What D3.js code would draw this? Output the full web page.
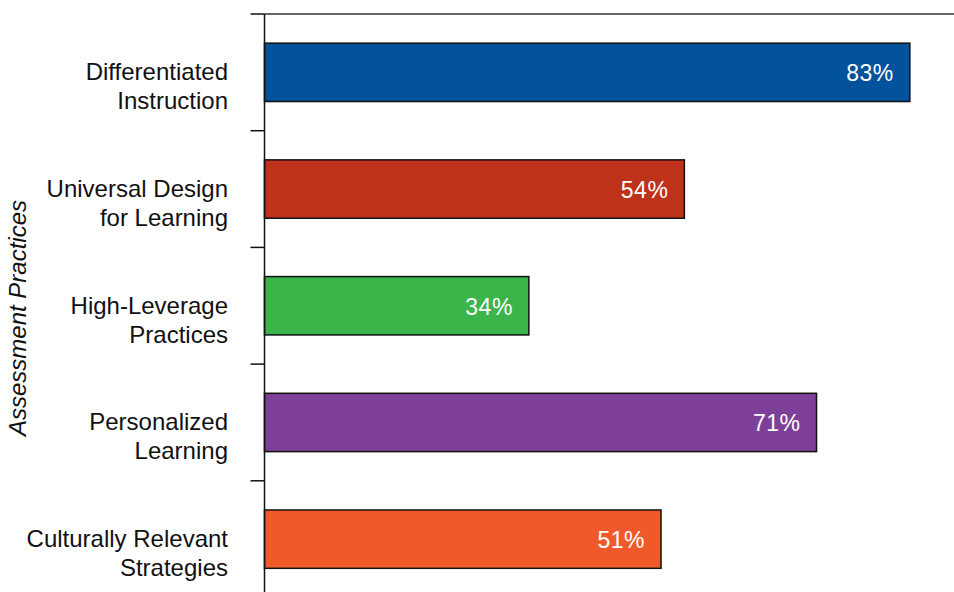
<!DOCTYPE html>
<html><head><meta charset="utf-8">
<script src="https://cdn.jsdelivr.net/npm/d3@7"></script>
<style>body{margin:0;background:#fff}svg{display:block}text{font-family:"Liberation Sans",Arial,Helvetica,sans-serif}</style>
</head><body>
<svg id="c" width="954" height="592"></svg>
<script>
const categories = [["Differentiated","Instruction"],["Universal Design","for Learning"],["High-Leverage","Practices"],["Personalized","Learning"],["Culturally Relevant","Strategies"]];
const values = [83, 54, 34, 71, 51];
const colors = ["#02529C", "#BE311B", "#3BB54A", "#7D3F98", "#F05A2A"];
const axisTitle = "Assessment Practices";

const svg = d3.select("#c");
const keys = categories.map((d,i)=>i);
const y = d3.scaleBand().domain(keys).range([14, 597.5]).paddingInner(0.5).paddingOuter(0.25);
const x = d3.scaleLinear().domain([0, 100]).range([264.5, 1042]);

// top line
svg.append("line").attr("x1", x(0)).attr("x2", 954).attr("y1", 14).attr("y2", 14)
  .attr("stroke", "#333").attr("stroke-width", 1.5);

// bars
svg.selectAll("rect.bar").data(values).join("rect")
  .attr("x", x(0)).attr("y", (d,i)=>y(i))
  .attr("width", d=>x(d)-x(0)).attr("height", y.bandwidth())
  .attr("fill", (d,i)=>colors[i]).attr("stroke", "#111").attr("stroke-width", 1.5);

// axis line
svg.append("line").attr("x1", x(0)).attr("x2", x(0)).attr("y1", 14).attr("y2", 592)
  .attr("stroke", "#111").attr("stroke-width", 1.5);

// ticks at band boundaries
const bounds = d3.range(0, 5).map(i => 14 + i * y.step());
svg.selectAll("line.tick").data(bounds).join("line")
  .attr("x1", x(0) - 14).attr("x2", x(0)).attr("y1", d=>d).attr("y2", d=>d)
  .attr("stroke", "#111").attr("stroke-width", 1.5);

// category labels
const lab = svg.selectAll("text.cat").data(categories).join("text")
  .attr("text-anchor", "end").attr("font-size", 24).attr("fill", "#111");
lab.each(function(d,i){
  const c = y(i) + y.bandwidth()/2;
  d3.select(this).selectAll("tspan").data(d).join("tspan")
    .attr("x", 228).attr("y", (t,j)=> c + 8 + j*29).text(t=>t);
});

// value labels
svg.selectAll("text.val").data(values).join("text")
  .attr("x", d=>x(d) - 16).attr("y", (d,i)=>y(i) + y.bandwidth()/2 + 9)
  .attr("text-anchor", "end").attr("font-size", 23).attr("fill", "#fff")
  .attr("letter-spacing", 0.5)
  .text(d=>d + "%");

// axis title
svg.append("text").attr("transform", "translate(26,318) rotate(-90)")
  .attr("text-anchor", "middle").attr("font-size", 24).attr("font-style", "italic").attr("fill", "#111")
  .text(axisTitle);
</script>
</body></html>
